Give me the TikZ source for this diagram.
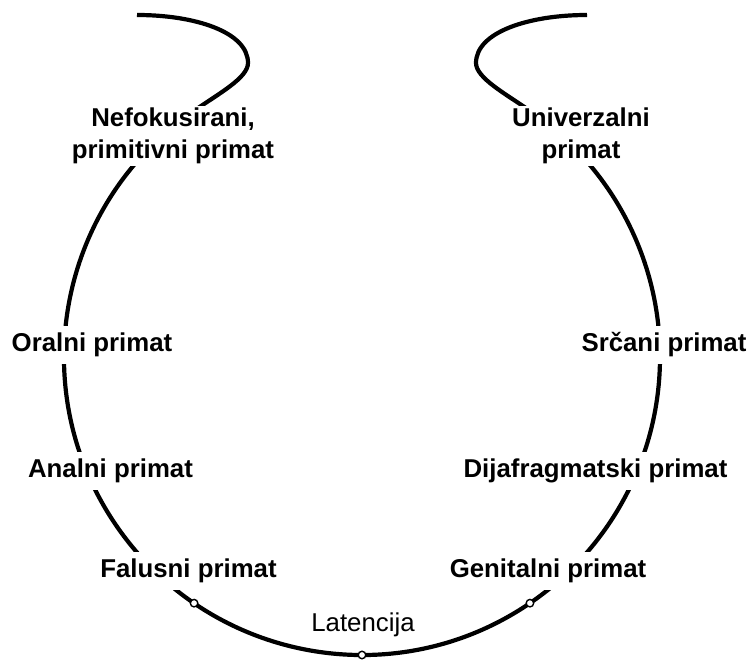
\documentclass[tikz,border=0pt]{standalone}
\usepackage{fontspec}
\setmainfont{Liberation Sans}

\begin{document}
\begin{tikzpicture}[x=1pt, y=1pt,
  ring/.style={line width=4.2pt},
  primat/.style={font=\fontsize{25.8}{32}\selectfont\bfseries, fill=white, inner sep=7pt, align=center, anchor=base},
  joint/.style={circle, draw, fill=white, line width=1.4pt, minimum size=7.5pt, inner sep=0pt}]
% Define the parameters of the ring
\pgfmathsetmacro{\R}{298}
\useasboundingbox (0,0) rectangle (749,660);
\coordinate (center) at (362,303);
\coordinate (leftend) at ([shift={(124:\R)}]center);

% Draw the open ring with the two hooks
\draw[ring] (137,645) .. controls (195,645) and (248,628) .. (248,597)
  .. controls (248,582) and (218,566) .. (leftend) arc[start angle=124, end angle=416, radius=\R]
  .. controls (506,566) and (476,582) .. (476,597) .. controls (476,628) and (529,645) .. (587,645);

% Stages along the ring
\node[primat, inner ysep=2pt] (nefokusirani) at (173,501) {Nefokusirani,\\primitivni primat};
\node[primat, inner ysep=2pt] (univerzalni) at (581,501) {Univerzalni\\primat};
\node[primat] (oralni) at (92,308) {Oralni primat};
\node[primat] (srcani) at (664,308) {Srčani primat};
\node[primat] (analni) at (110.5,182) {Analni primat};
\node[primat] (dijafragmatski) at (595.5,182) {Dijafragmatski primat};
\node[primat] (falusni) at (188.5,82) {Falusni primat};
\node[primat] (genitalni) at (548,82) {Genitalni primat};
\node[primat, font=\fontsize{25.8}{32}\selectfont, fill=none] (latencija) at (363,28) {Latencija};

% Draw joints on the lower arc
\node[joint] (latStart) at ([shift={(235.7:\R)}]center) {};
\node[joint] (latMid) at ([shift={(270:\R)}]center) {};
\node[joint] (latEnd) at ([shift={(304.3:\R)}]center) {};
\end{tikzpicture}
\end{document}
